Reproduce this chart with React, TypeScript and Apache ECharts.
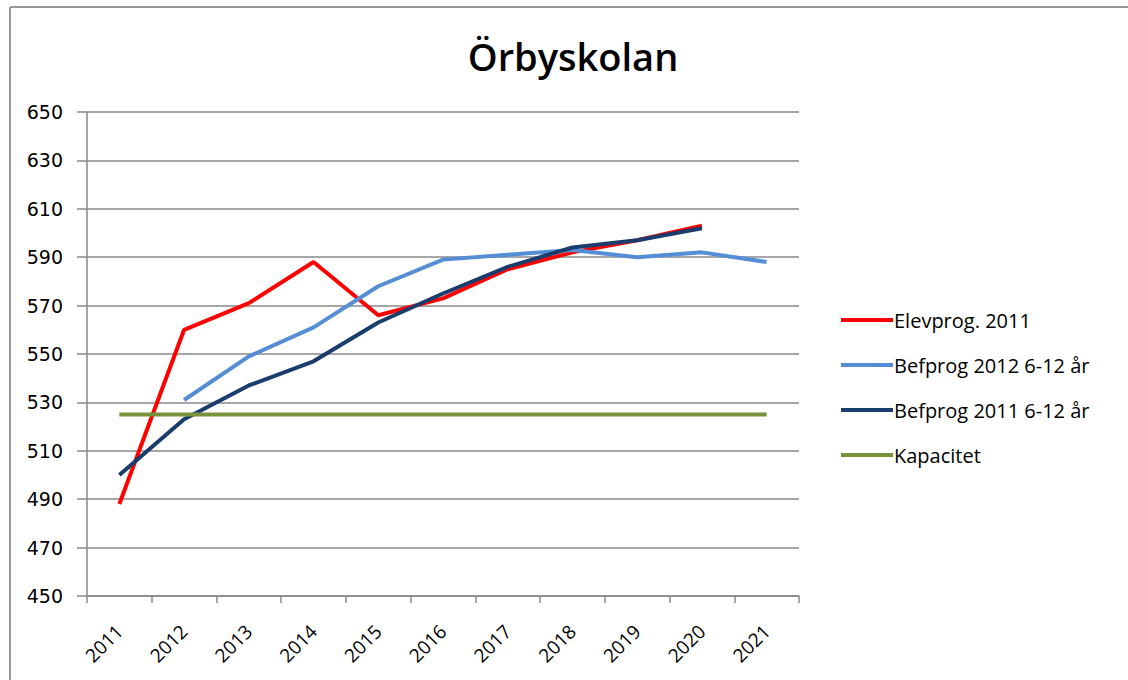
import React, { useEffect, useRef } from "react";
import * as echarts from "echarts";

const years = ["2011", "2012", "2013", "2014", "2015", "2016", "2017", "2018", "2019", "2020", "2021"];
const elevprog2011 = [488, 560, 571, 588, 566, 573, 585, 592, 597, 603, null];
const befprog2012 = [null, 531, 549, 561, 578, 589, 591, 593, 590, 592, 588];
const befprog2011 = [500, 523, 537, 547, 563, 575, 586, 594, 597, 602, null];
const kapacitet = [525, 525, 525, 525, 525, 525, 525, 525, 525, 525, 525];

export default function App() {
  const ref = useRef<HTMLDivElement>(null);
  useEffect(() => {
    if (!ref.current) return;
    const chart = echarts.init(ref.current, null, { renderer: "svg" });
    const mk = (name: string, data: (number | null)[], color: string) => ({
      name,
      type: "line",
      data,
      symbol: "none",
      lineStyle: { color, width: 4 },
      itemStyle: { color },
      connectNulls: false,
    });
    chart.setOption({
      animation: false,
      backgroundColor: "#fff",
      title: {
        text: "Örbyskolan",
        left: 568,
        textAlign: "center",
        top: 32,
        textStyle: { fontFamily: "Open Sans", fontSize: 38, fontWeight: 600, color: "#000" },
      },
      grid: { left: 87, right: 329, top: 112, bottom: 84 },
      legend: {
        orient: "vertical",
        left: 836,
        top: 303,
        icon: "rect",
        itemWidth: 52,
        itemHeight: 4,
        itemGap: 21,
        textStyle: { fontFamily: "Open Sans", fontSize: 20, color: "#000", lineHeight: 24, padding: [0, 0, 0, -4] },
        data: ["Elevprog. 2011", "Befprog 2012 6-12 år", "Befprog 2011 6-12 år", "Kapacitet"],
      },
      xAxis: {
        type: "category",
        data: years,
        boundaryGap: true,
        axisLine: { lineStyle: { color: "#888", width: 1.5 } },
        axisTick: { show: true, length: 7, lineStyle: { color: "#888", width: 1.5 } },
        axisLabel: { rotate: 45, color: "#000", fontFamily: "Open Sans", fontSize: 19, margin: 32 },
        splitLine: { show: false },
      },
      yAxis: {
        type: "value",
        min: 450,
        max: 650,
        interval: 20,
        axisLine: { show: true, lineStyle: { color: "#888", width: 1.5 } },
        axisTick: { show: true, length: 10, lineStyle: { color: "#888", width: 1.5 } },
        axisLabel: { color: "#000", fontFamily: "DejaVu Sans", fontSize: 19, margin: 24 },
        splitLine: { lineStyle: { color: "#888", width: 1.5 } },
      },
      graphic: [
        { type: "line", shape: { x1: 10, y1: 7, x2: 1128, y2: 7 }, style: { stroke: "#999", lineWidth: 2 } },
        { type: "line", shape: { x1: 10, y1: 7, x2: 10, y2: 680 }, style: { stroke: "#999", lineWidth: 2 } },
      ],
      series: [
        mk("Elevprog. 2011", elevprog2011, "#FF0000"),
        mk("Befprog 2012 6-12 år", befprog2012, "#558ED5"),
        mk("Befprog 2011 6-12 år", befprog2011, "#1A3D6E"),
        mk("Kapacitet", kapacitet, "#77933C"),
      ],
    });
    return () => chart.dispose();
  }, []);
  return <div ref={ref} style={{ width: 1128, height: 680, position: "absolute", left: 0, top: 0 }} />;
}
